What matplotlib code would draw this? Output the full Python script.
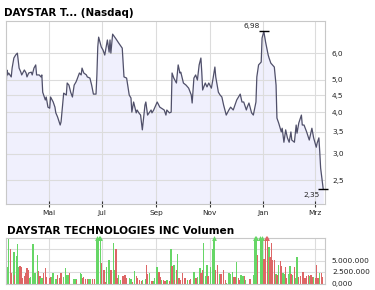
import matplotlib
matplotlib.use('Agg')
import matplotlib.pyplot as plt
import matplotlib.dates as mdates
from matplotlib.ticker import NullLocator, FixedLocator, FixedFormatter
import numpy as np
import pandas as pd

# ---------------- data ----------------
start_date = '2007-03-13'
end_date = '2008-03-12'

price_days = [0, 1, 2, 3, 6, 7, 9, 11, 13, 15, 17, 18, 21, 23, 24, 26, 29, 30, 32, 34,
              35, 38, 40, 41, 42, 45, 46, 48, 50, 51, 54, 56, 57, 59, 62, 63, 65, 66, 69, 70,
              72, 74, 76, 78, 80, 81, 84, 86, 87, 89, 92,
              93, 96, 98, 100, 103, 104, 105, 106, 109, 111, 113, 116, 118, 119, 120, 122, 126,
              129, 133, 135, 138, 141, 143, 144, 146, 149, 150, 152, 154, 156, 159, 160, 162,
              166, 167, 169, 173, 176, 181, 183,
              184, 187, 189, 190, 192, 195, 197, 199, 200, 203, 206, 209, 212, 213, 215, 217,
              219, 221, 223, 224, 225, 228, 230, 232, 235, 237, 239, 240, 243, 245, 247, 249,
              252, 255, 257, 260, 262, 264, 268, 270, 272, 275,
              276, 278, 281, 283, 286, 287, 289, 292, 293, 295, 297, 300, 301, 303, 307, 309,
              310, 312, 315, 316, 318, 320, 322, 324, 326, 327, 330, 332, 333, 335, 338, 339,
              341, 344, 347, 349, 350, 352, 355, 356, 358, 359, 360, 362, 363]

prices = [4.72, 5.35, 5.17, 5.24, 5.10, 5.42, 5.81, 5.93, 6.01, 5.42, 5.27, 5.17, 5.35, 5.24,
          5.10, 5.24, 5.27, 5.17, 5.42, 5.54, 5.17, 5.17, 5.10, 5.17, 4.59, 4.35, 4.44, 4.14,
          4.11, 4.44, 4.29, 4.14, 3.98, 3.87, 3.66, 3.74, 4.29, 4.56, 4.50, 4.89, 4.82, 4.59,
          4.44, 4.82, 4.92, 4.99, 5.24, 5.17, 5.42, 5.24, 5.17,
          5.10, 5.06, 4.82, 4.53, 4.53, 5.17, 6.27, 6.71, 6.27, 6.14, 5.93, 6.58, 6.05, 6.58,
          6.01, 6.85, 6.62, 6.44, 6.22, 5.10, 5.06, 4.50, 4.41, 4.00, 4.29, 3.98, 4.06, 3.98,
          3.92, 3.54, 4.20, 4.29, 3.92, 4.06, 3.98, 4.06, 4.29, 4.14, 4.06, 3.92,
          4.06, 3.98, 4.00, 5.24, 5.06, 4.89, 5.54, 5.24, 5.27, 4.89, 4.82, 4.72, 4.50, 4.26,
          5.06, 5.17, 4.99, 5.54, 5.81, 5.27, 4.66, 4.89, 4.76, 4.89, 4.72, 5.06, 5.46, 5.10,
          4.59, 4.50, 4.44, 4.20, 3.92, 4.06, 4.14, 4.06, 4.20, 4.35, 4.53, 4.29, 4.29, 4.06,
          4.14, 4.26, 3.98, 3.92, 4.29, 5.10, 5.54, 5.65, 6.67, 6.98, 6.49, 5.93, 5.81, 5.61,
          5.46, 4.82, 3.84, 3.71, 3.49, 3.58, 3.25, 3.54, 3.35, 3.25, 3.49, 3.30, 3.25, 3.66,
          3.46, 3.71, 3.92, 3.66, 3.66, 3.49, 3.30, 3.49, 3.58, 3.35, 3.14, 3.23, 3.35, 3.04,
          2.72, 2.47, 2.35]

vol_days = [2, 3, 5, 6, 9, 10, 12, 13, 15, 16, 18, 19, 21, 23, 24, 26, 27, 28, 30, 31,
            32, 34, 36, 37, 39, 40, 42, 43, 45, 46, 50, 51, 52, 54, 57, 58, 59, 61, 63, 66,
            68, 70, 72, 73, 78, 80, 81, 85, 86, 88, 89, 91, 93, 95, 97, 99, 101, 104, 105, 106,
            108, 109, 112, 114, 115, 117, 118, 120, 121, 123, 124, 126, 128, 129, 131, 133, 134,
            136, 138, 141, 143, 145, 147, 149, 150, 153, 155, 156, 160, 161, 162, 164, 167, 169,
            170, 173, 175, 176, 178, 180, 182,
            184, 187, 189, 190, 192, 193, 195, 196, 198, 200, 202, 204, 205, 208, 210, 211, 215,
            217, 218, 219, 222, 223, 225, 226, 228, 230, 231, 234, 236, 237, 238, 240, 242, 245,
            246, 249, 251, 252, 255, 257, 259, 261, 262, 264, 266, 267, 269, 271, 273, 274, 279,
            283, 285, 286, 288, 291, 293, 295, 297, 299, 301, 302, 304, 305, 307, 309, 310, 312,
            314, 315, 317, 318, 320, 321, 323, 325, 326, 328, 330, 332, 333, 335, 337, 340, 342,
            344, 346, 347, 349, 350, 352, 354, 355, 357, 359, 361, 362]

volumes_m = [3.5, 9.8, 7.4, 2.2, 6.9, 1.8, 5.9, 8.5, 3.6, 3.9,
             3.6, 1.3, 1.6, 2.3, 3.3, 3.0, 1.3, 1.5, 2.3, 8.5,
             2.3, 2.3, 6.3, 2.8, 1.7, 1.1, 1.3, 2.3, 3.3, 1.5,
             1.3, 1.5, 1.5, 2.2, 0.9, 0.9, 1.8, 1.1, 2.3, 1.5,
             3.3, 1.8, 1.8, 2.2, 0.9, 0.9, 0.7, 2.2, 2.0, 1.3,
             1.5, 0.9, 0.9, 0.9, 0.9, 0.9, 0.9, 13.0, 5.7, 14.0,
             12.0, 4.4, 3.0, 0.4, 3.6, 4.7, 5.2, 2.9, 1.8, 8.7,
             2.9, 7.4, 1.3, 1.8, 0.7, 1.6, 1.6, 1.8, 1.3, 1.1,
             0.9, 0.4, 2.8, 1.6, 1.3, 0.7, 0.6, 0.7, 0.9, 4.0,
             2.0, 2.2, 0.6, 0.6, 1.1, 3.5, 2.5, 1.5, 0.7, 0.7, 0.6,
             0.7, 0.6, 7.6, 3.8, 4.0, 0.7, 3.0, 6.5, 1.1,
             0.7, 2.2, 1.1, 1.1, 0.7, 0.7, 0.9, 2.5, 1.3, 1.3,
             1.5, 3.3, 2.3, 3.0, 8.7, 1.6, 4.0, 1.6, 3.6, 3.8,
             7.4, 12.0, 2.9, 4.0, 2.0, 2.0, 2.9, 0.7, 0.15, 2.2,
             2.0, 2.5, 1.5, 1.5, 4.7, 1.1, 0.7, 1.8, 1.6, 1.6,
             0.7, 0.9, 1.8, 13.0, 14.0, 6.2, 15.0, 13.0, 5.4, 12.0,
             13.0, 8.0, 5.8, 8.7, 5.1, 5.1, 2.0, 1.8, 4.1, 4.9,
             3.8, 2.2, 2.0, 3.6, 1.1, 2.0, 3.8, 2.0, 1.8, 3.6,
             1.1, 5.7, 1.5, 1.6, 2.5, 1.1, 1.6, 1.8, 1.6, 1.8,
             1.5, 1.5, 1.1, 4.0, 1.3, 2.2, 2.3, 1.5]

vol_colors = ("ggrrgrgggr" "rrrrrrgggg" "gggrrggrrr" "rrggggrrrg" "gggrggrggr"
              "rrrggrrggg" "grrrgrgrrg" "grrggrrrrg" "grgrrrrggr" "rgrgggrrgrr"
              "grgrgrrgr" "rrrrgrrgrr" "ggrrgggrgr" "ggrrgrrrgg" "ggrrgrrggr"
              "grgggrggrr" "rgrrrrgrgr" "rggrrggrgr" "ggrrrrrrgr" "rgrrrgrr")

month_ticks = ['2007-05-01', '2007-07-01', '2007-09-01', '2007-11-01', '2008-01-01', '2008-03-01']
month_labels = ['Mai', 'Jul', 'Sep', 'Nov', 'Jan', 'Mrz']
price_ticks = [2.5, 3.0, 3.5, 4.0, 4.5, 5.0, 6.0]
vol_ticks = [0, 2.5e6, 5e6, 7.5e6]
vol_tick_labels = ['0,000', '2.500.000', '5.000.000', '']

title_price = 'DAYSTAR T... (Nasdaq)'
title_volume = 'DAYSTAR TECHNOLOGIES INC Volumen'

# ---------------- style ----------------
LINE = '#50506a'
FILL = '#f0f0fd'
GRID = '#dcdcdc'
SPINE = '#c8c8c8'
TXT = '#222222'
GREEN = '#66d666'
RED = '#dd6666'

t0 = pd.Timestamp(start_date)
px = mdates.date2num((t0 + pd.to_timedelta(price_days, unit='D')).to_pydatetime())
vx = mdates.date2num((t0 + pd.to_timedelta(vol_days, unit='D')).to_pydatetime())
xmin = mdates.date2num(t0.to_pydatetime())
xmax = mdates.date2num(pd.Timestamp(end_date).to_pydatetime())
mt = mdates.date2num(pd.to_datetime(month_ticks).to_pydatetime())

fig = plt.figure(figsize=(3.75, 2.9), dpi=100)
ax = fig.add_axes([6/375, 1-204/290, 319/375, 183/290])
axv = fig.add_axes([6/375, 1-283.5/290, 319/375, 46/290])

ylo, yhi = 2.123, 7.5
# price
ax.fill_between(px, prices, ylo, color=FILL, lw=0, zorder=0.2)
ax.plot(px, prices, color=LINE, lw=0.9, zorder=2)
ax.set_yscale('log')
ax.set_ylim(ylo, yhi)
ax.set_xlim(xmin, xmax)
ax.set_axisbelow(True)
ax.grid(True, color=GRID, lw=0.8)
ax.yaxis.tick_right()
ax.yaxis.set_major_locator(FixedLocator(price_ticks))
ax.yaxis.set_major_formatter(FixedFormatter([f"{v:.1f}".replace('.', ',') for v in price_ticks]))
ax.yaxis.set_minor_locator(NullLocator())
ax.tick_params(axis='y', length=0, pad=5, labelsize=5.3, colors=TXT)
ax.set_xticks(mt)
ax.set_xticklabels(month_labels)
ax.tick_params(axis='x', direction='inout', length=5, width=0.8, color='#333333',
               labelsize=5.3, labelcolor=TXT, pad=2)
for s in ax.spines.values():
    s.set_color(SPINE)
    s.set_linewidth(0.8)

# max / min markers
pa = np.array(prices)
imax, imin = int(np.argmax(pa)), int(np.argmin(pa))
for i, dy, va in [(imax, 2, 'bottom'), (imin, -3, 'top')]:
    ax.plot(px[i], pa[i], marker='_', ms=7, mew=1.0, color='black', zorder=3, clip_on=False)
    ax.annotate(f"{pa[i]:.2f}".replace('.', ','), xy=(px[i], pa[i]), xytext=(-4, dy),
                textcoords='offset pixels', ha='right', va=va, fontsize=5.3, color=TXT)

# volume
top = 10.0e6
vols = np.array(volumes_m) * 1e6
cols = [GREEN if c == 'g' else RED for c in vol_colors]
axv.bar(vx, np.minimum(vols, top), width=1.6, facecolor=cols, edgecolor='none',
        linewidth=0, zorder=2, antialiased=False)
for xv, v, c in zip(vx, vols, cols):
    if v > top:
        axv.plot(xv, top, marker='^', ms=3.5, color=c, mew=0, clip_on=False, zorder=3)
axv.set_xlim(xmin, xmax)
axv.set_ylim(0, top)
axv.set_axisbelow(True)
axv.grid(True, color=GRID, lw=0.8)
axv.set_xticks(mt)
axv.tick_params(axis='x', length=0, labelbottom=False)
axv.yaxis.tick_right()
axv.set_yticks(vol_ticks)
axv.set_yticklabels(vol_tick_labels)
axv.tick_params(axis='y', length=0, pad=5, labelsize=5.3, colors=TXT)
for s in axv.spines.values():
    s.set_color(SPINE)
    s.set_linewidth(0.8)

fig.text(4.5/375, 1-16.3/290, title_price, fontsize=7.4, fontweight='bold', color='black',
         ha='left', va='baseline')
fig.text(7/375, 1-234/290, title_volume, fontsize=7.6, fontweight='bold', color='black',
         ha='left', va='baseline')

fig.savefig('out.png', dpi=100)
